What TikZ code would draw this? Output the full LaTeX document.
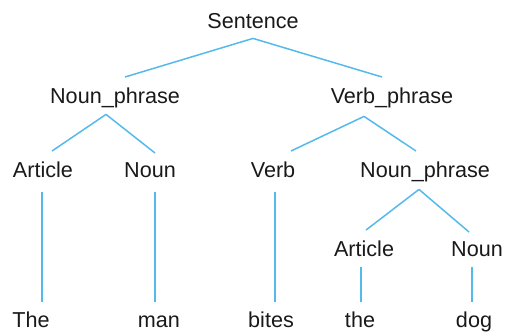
\documentclass[tikz,border=0pt]{standalone}
\usepackage{fontspec}
\setmainfont{Liberation Sans}
\usetikzlibrary{calc}
\definecolor{branch}{RGB}{84,186,236}
\definecolor{ink}{RGB}{25,25,25}

\begin{document}
\begin{tikzpicture}[x=0.5pt, y=-0.5pt, font=\fontsize{10.8}{13}\selectfont,
    word/.style={anchor=base, ink, inner xsep=0pt, inner ysep=5pt,
                 text height=7.8pt, text depth=0pt},
    edge/.style={branch, line width=0.75pt}]
  \useasboundingbox (0,0) rectangle (506,333);

  \node[word] (sent)  at (253,28)  {Sentence};
  \node[word] (np1)   at (115,103) {Noun\_phrase};
  \node[word] (vp)    at (392,103) {Verb\_phrase};
  \node[word] (art1)  at (43,177)  {Article};
  \node[word] (noun1) at (150,177) {Noun};
  \node[word] (verb)  at (273,177) {Verb};
  \node[word] (np2)   at (425,177) {Noun\_phrase};
  \node[word] (art2)  at (364,256) {Article};
  \node[word] (noun2) at (477,256) {Noun};
  \node[word] (the1)  at (31,327)  {The};
  \node[word] (man)   at (159,327) {man};
  \node[word] (bites) at (271,327) {bites};
  \node[word] (the2)  at (360,327) {the};
  \node[word] (dog)   at (474,327) {dog};

  \draw[edge] (sent.south) -- ($(np1.north)+(10,0)$);
  \draw[edge] (sent.south) -- ($(vp.north)+(-10,0)$);
  \draw[edge] ($(np1.south)+(-9,1)$) -- ($(art1.north)+(9,0)$);
  \draw[edge] ($(np1.south)+(-9,1)$) -- ($(noun1.north)+(5,2)$);
  \draw[edge] ($(vp.south)+(-28,3)$) -- ($(verb.north)+(18,0)$);
  \draw[edge] ($(vp.south)+(-28,3)$) -- ($(np2.north)+(-9,0)$);
  \draw[edge] ($(np2.south)+(-6,2)$) -- ($(art2.north)+(2,0)$);
  \draw[edge] ($(np2.south)+(-6,2)$) -- ($(noun2.north)+(-8,2)$);
  \draw[edge] ($(art1.south)+(-1,5)$) -- ($(the1.north)+(11,1)$);
  \draw[edge] ($(noun1.south)+(5,5)$) -- ($(man.north)+(-4,1)$);
  \draw[edge] ($(verb.south)+(2,5)$) -- ($(bites.north)+(4,1)$);
  \draw[edge] ($(art2.south)+(-3,1)$) -- ($(the2.north)+(1,1)$);
  \draw[edge] ($(noun2.south)+(-5,1)$) -- ($(dog.north)+(-2,1)$);
\end{tikzpicture}
\end{document}
